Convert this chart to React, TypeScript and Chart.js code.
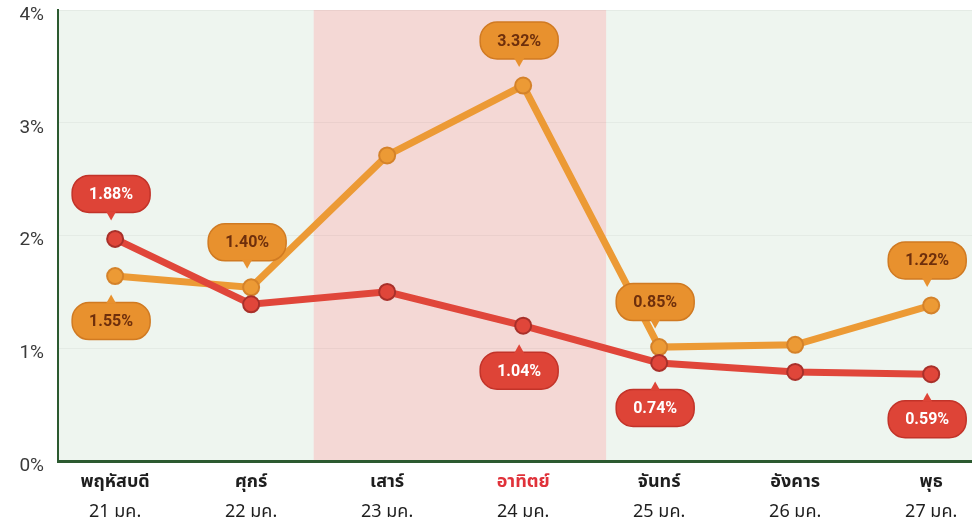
import React, { useEffect, useRef } from "react";
import { Chart, registerables } from "chart.js";

Chart.register(...registerables);

const days = ["พฤหัสบดี", "ศุกร์", "เสาร์", "อาทิตย์", "จันทร์", "อังคาร", "พุธ"];
const dates = ["21 มค.", "22 มค.", "23 มค.", "24 มค.", "25 มค.", "26 มค.", "27 มค."];
const redValues = [1.97, 1.39, 1.5, 1.2, 0.87, 0.79, 0.77];
const orangeValues = [1.64, 1.54, 2.71, 3.33, 1.01, 1.03, 1.38];
const redLabels = ["1.88%", null, null, "1.04%", "0.74%", null, "0.59%"];
const orangeLabels = ["1.55%", "1.40%", null, "3.32%", "0.85%", null, "1.22%"];
const yTicks = [0, 1, 2, 3, 4];
const highlightRange = [1.46, 3.61];

// label placement (style, not data)
const redPlace = [-1, 0, 0, 1, 1, 0, 1];
const orangePlace = [1, -1, 0, -1, -1, 0, -1];

const THAI = "'Noto Sans Thai', 'Noto Sans', Roboto, sans-serif";
const RED = "#e0463a";
const RED_DARK = "#a8302a";
const ORANGE = "#ec9a35";
const ORANGE_DARK = "#d4822a";
const AXIS_GREEN = "#2c5a30";

function bubble(ctx: CanvasRenderingContext2D, cx: number, cy: number, w: number, h: number, r: number, dir: number, fill: string, stroke: string) {
  const x = cx - w / 2, y = cy - h / 2;
  ctx.beginPath();
  ctx.moveTo(x + r, y);
  ctx.lineTo(x + w - r, y);
  ctx.arcTo(x + w, y, x + w, y + r, r);
  ctx.lineTo(x + w, y + h - r);
  ctx.arcTo(x + w, y + h, x + w - r, y + h, r);
  ctx.lineTo(x + r, y + h);
  ctx.arcTo(x, y + h, x, y + h - r, r);
  ctx.lineTo(x, y + r);
  ctx.arcTo(x, y, x + r, y, r);
  ctx.closePath();
  ctx.fillStyle = fill;
  ctx.fill();
  ctx.lineWidth = 1.5;
  ctx.strokeStyle = stroke;
  ctx.stroke();
  // pointer
  ctx.beginPath();
  if (dir < 0) {
    ctx.moveTo(cx - 5, y + h - 1);
    ctx.lineTo(cx + 5, y + h - 1);
    ctx.lineTo(cx, y + h + 8);
  } else {
    ctx.moveTo(cx - 5, y + 1);
    ctx.lineTo(cx + 5, y + 1);
    ctx.lineTo(cx, y - 8);
  }
  ctx.closePath();
  ctx.fillStyle = fill;
  ctx.fill();
}

const bgPlugin = {
  id: "bgPlugin",
  beforeDraw(chart: any) {
    const { ctx, chartArea, scales } = chart;
    ctx.save();
    ctx.fillStyle = "#eef5ef";
    ctx.fillRect(chartArea.left, chartArea.top, chartArea.right - chartArea.left, chartArea.bottom - chartArea.top);
    const x1 = scales.x.getPixelForValue(highlightRange[0]);
    const x2 = scales.x.getPixelForValue(highlightRange[1]);
    ctx.fillStyle = "#f4d8d5";
    ctx.fillRect(x1, chartArea.top, x2 - x1, chartArea.bottom - chartArea.top);
    ctx.restore();
  },
};

const calloutPlugin = {
  id: "calloutPlugin",
  afterDatasetsDraw(chart: any) {
    const { ctx } = chart;
    const sets = [
      { idx: 1, labels: orangeLabels, place: orangePlace, fill: "#e8912e", stroke: "#d07a22", text: "#6e2f0c" },
      { idx: 0, labels: redLabels, place: redPlace, fill: "#de4437", stroke: "#c23329", text: "#ffffff" },
    ];
    ctx.save();
    for (const s of sets) {
      const meta = chart.getDatasetMeta(s.idx);
      s.labels.forEach((lab, i) => {
        if (!lab) return;
        const p = meta.data[i];
        const dir = s.place[i];
        const w = 78, h = 37;
        const cy = p.y + dir * 45;
        const cx = p.x - 4;
        bubble(ctx, cx, cy, w, h, 17, dir, s.fill, s.stroke);
        ctx.fillStyle = s.text;
        ctx.font = "bold 16px Roboto, sans-serif";
        ctx.textAlign = "center";
        ctx.textBaseline = "middle";
        ctx.fillText(lab, cx, cy + 1);
      });
    }
    ctx.restore();
  },
};

export default function App() {
  const ref = useRef<HTMLCanvasElement>(null);
  useEffect(() => {
    if (!ref.current) return;
    const tickSet = (a: any) => {
      a.ticks = days.map((_, i) => ({ value: i }));
    };
    const chart = new Chart(ref.current, {
      type: "line",
      data: {
        datasets: [
          {
            label: "red",
            data: redValues.map((v, i) => ({ x: i, y: v })),
            borderColor: RED,
            backgroundColor: RED,
            borderWidth: 7,
            pointRadius: 8,
            pointBorderWidth: 2,
            pointBorderColor: RED_DARK,
            pointBackgroundColor: RED,
            tension: 0,
          },
          {
            label: "orange",
            data: orangeValues.map((v, i) => ({ x: i, y: v })),
            borderColor: ORANGE,
            backgroundColor: ORANGE,
            borderWidth: 7,
            pointRadius: 8,
            pointBorderWidth: 2,
            pointBorderColor: ORANGE_DARK,
            pointBackgroundColor: ORANGE,
            tension: 0,
          },
        ],
      },
      options: {
        animation: false,
        responsive: true,
        maintainAspectRatio: false,
        layout: { autoPadding: false, padding: { top: 10, right: 0, left: 0, bottom: 0 } },
        plugins: { legend: { display: false }, tooltip: { enabled: false } },
        scales: {
          x: {
            type: "linear",
            min: -0.42,
            max: 6.3,
            position: "bottom",
            afterBuildTicks: tickSet,
            afterFit: (a: any) => { a.height = 42; a.paddingLeft = 0; a.paddingRight = 0; },
            ticks: {
              autoSkip: false,
              maxRotation: 0,
              padding: 12,
              callback: (v: any) => days[v],
              font: { family: THAI, size: 18, weight: "bold" },
              color: (c: any) => (c.index === 3 ? "#e0323a" : "#1e1e1e"),
            },
            grid: { display: false, drawTicks: false },
            border: { color: AXIS_GREEN, width: 3 },
          },
          x2: {
            type: "linear",
            min: -0.42,
            max: 6.3,
            position: "bottom",
            afterBuildTicks: tickSet,
            afterFit: (a: any) => { a.height = 27; a.paddingLeft = 0; a.paddingRight = 0; },
            ticks: {
              autoSkip: false,
              maxRotation: 0,
              padding: 0,
              callback: (v: any) => dates[v],
              font: { family: THAI, size: 18 },
              color: "#1e1e1e",
            },
            grid: { display: false, drawTicks: false },
            border: { display: false },
          },
          y: {
            min: 0,
            max: 4,
            afterBuildTicks: (a: any) => { a.ticks = yTicks.map((v) => ({ value: v })); },
            afterFit: (a: any) => { a.width = 58; a.paddingTop = 0; a.paddingBottom = 0; },
            ticks: {
              padding: 14,
              labelOffset: 5,
              callback: (v: any) => v + "%",
              font: { family: "Roboto, sans-serif", size: 19 },
              color: "#3a3a3a",
            },
            grid: { color: "rgba(0,0,0,0.04)", drawTicks: false },
            border: { color: AXIS_GREEN, width: 2 },
          },
        },
      },
      plugins: [bgPlugin, calloutPlugin],
    } as any);
    return () => chart.destroy();
  }, []);
  return (
    <div style={{ position: "absolute", left: 0, top: 0, width: 972, height: 530, background: "#fff" }}>
      <canvas ref={ref} />
    </div>
  );
}
